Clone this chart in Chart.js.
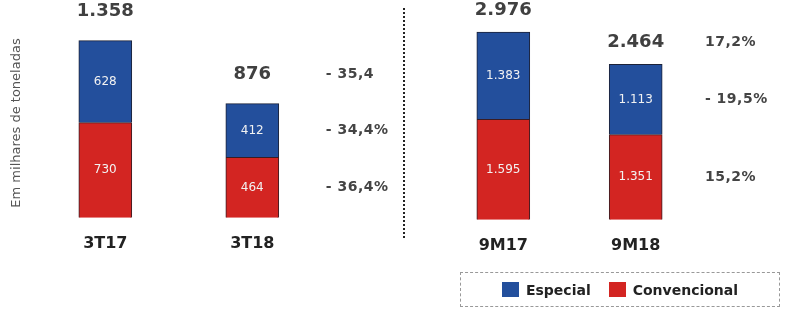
<!DOCTYPE html>
<html>
<head>
<meta charset="utf-8">
<script src="https://cdn.jsdelivr.net/npm/chart.js@4.4.1/dist/chart.umd.min.js"></script>
<style>
  body { margin: 0; background: #fff; width: 792px; height: 312px; position: relative; overflow: hidden; font-family: "DejaVu Sans", sans-serif; }
  canvas { position: absolute; top: 0; }
  #divider { position: absolute; left: 403px; top: 8px; height: 230px; border-left: 2px dotted #222; }
  #legend { position: absolute; left: 460px; top: 272px; width: 320px; height: 35px; border: 1.5px dashed #999; box-sizing: border-box;
            display: flex; align-items: center; justify-content: center; gap: 18px; font-weight: bold; font-size: 14px; color: #222; }
  #legend span.sw { display: inline-block; width: 17px; height: 15px; margin-right: 7px; vertical-align: -2px; }
</style>
</head>
<body>
<canvas id="left" width="400" height="312" style="left:0"></canvas>
<div id="divider"></div>
<canvas id="right" width="388" height="312" style="left:404px"></canvas>
<div id="legend"></div>
<script>
// valores em milhares de toneladas
const categoriasTri = ['3T17', '3T18'];
const especialTri = [628, 412];
const convencionalTri = [730, 464];
const totaisTri = [1358, 876];
const variacoesTri = ['- 35,4', '- 34,4%', '- 36,4%'];

const categoriasNove = ['9M17', '9M18'];
const especialNove = [1383, 1113];
const convencionalNove = [1595, 1351];
const totaisNove = [2976, 2464];
const variacoesNove = ['17,2%', '- 19,5%', '15,2%'];

const corEspecial = '#234f9c';
const corConvencional = '#d32522';

// formata 1358 -> "1.358"
function fmt(n) {
    return String(n).replace(/\B(?=(\d{3})+(?!\d))/g, '.');
}

// desenha os rótulos dos segmentos, totais e variações
const rotulosPlugin = {
    id: 'rotulos',
    afterDatasetsDraw(chart, args, opts) {
        const ctx = chart.ctx;
        const metaConv = chart.getDatasetMeta(0);
        const metaEsp = chart.getDatasetMeta(1);
        ctx.save();
        ctx.textAlign = 'center';
        ctx.textBaseline = 'middle';
        ctx.font = '12px "DejaVu Sans"';
        ctx.fillStyle = '#f2f2f2';
        [metaConv, metaEsp].forEach((meta, di) => {
            meta.data.forEach((bar, i) => {
                const v = chart.data.datasets[di].data[i];
                ctx.fillText(fmt(v), bar.x, (bar.y + bar.base) / 2);
            });
        });
        // totais
        ctx.font = 'bold 18px "DejaVu Sans"';
        ctx.fillStyle = '#404040';
        metaEsp.data.forEach((bar, i) => {
            ctx.fillText(fmt(opts.totais[i]), bar.x, bar.y - opts.gapTotal);
        });
        // variações ao lado da segunda barra
        const ultimo = metaEsp.data.length - 1;
        const bEsp = metaEsp.data[ultimo];
        const bConv = metaConv.data[ultimo];
        const ys = [bEsp.y - opts.gapTotal, (bEsp.y + bEsp.base) / 2, (bConv.y + bConv.base) / 2];
        ctx.textAlign = 'left';
        ctx.font = 'bold 14px "DejaVu Sans"';
        ctx.letterSpacing = '0.5px';
        ctx.fillStyle = '#444';
        opts.variacoes.forEach((t, i) => {
            ctx.fillText(t, chart.chartArea.right + opts.offsetVar, ys[i]);
        });
        ctx.letterSpacing = '0px';
        // título do eixo y
        if (opts.tituloY) {
            ctx.translate(17, 123);
            ctx.rotate(-Math.PI / 2);
            ctx.textAlign = 'center';
            ctx.font = '13px "DejaVu Sans"';
            ctx.fillStyle = '#555';
            ctx.fillText(opts.tituloY, 0, 0);
        }
        ctx.restore();
    }
};

function criarGrafico(id, labels, conv, esp, maxY, padding, rotulos) {
    return new Chart(document.getElementById(id), {
        type: 'bar',
        data: {
            labels: labels,
            datasets: [
                { label: 'Convencional', data: conv, backgroundColor: corConvencional, borderColor: '#3a1c22', borderWidth: 1, barThickness: 53 },
                { label: 'Especial', data: esp, backgroundColor: corEspecial, borderColor: '#1c2238', borderWidth: 1, barThickness: 53 }
            ]
        },
        options: {
            responsive: false,
            animation: false,
            layout: { padding: padding },
            plugins: {
                legend: { display: false },
                tooltip: { enabled: false },
                rotulos: rotulos
            },
            scales: {
                x: {
                    stacked: true,
                    grid: { display: false, drawTicks: false },
                    border: { display: false },
                    ticks: { color: '#222', padding: 16, font: { family: 'DejaVu Sans', size: 16, weight: 'bold' } }
                },
                y: { stacked: true, display: false, min: 0, max: maxY }
            }
        },
        plugins: [rotulosPlugin]
    });
}

criarGrafico('left', categoriasTri, convencionalTri, especialTri, 1670,
    { left: 31.8, right: 74.2, top: 0, bottom: 43 },
    { totais: totaisTri, variacoes: variacoesTri, gapTotal: 29, offsetVar: 0, tituloY: 'Em milhares de toneladas' });

criarGrafico('right', categoriasNove, convencionalNove, especialNove, 3486,
    { left: 33.1, right: 90.1, top: 0, bottom: 41 },
    { totais: totaisNove, variacoes: variacoesNove, gapTotal: 22, offsetVar: 3, tituloY: null });

// legenda
const legend = document.getElementById('legend');
[['Especial', corEspecial], ['Convencional', corConvencional]].forEach(([nome, cor]) => {
    const item = document.createElement('div');
    item.innerHTML = '<span class="sw" style="background:' + cor + '"></span>' + nome;
    legend.appendChild(item);
});
</script>
</body>
</html>
